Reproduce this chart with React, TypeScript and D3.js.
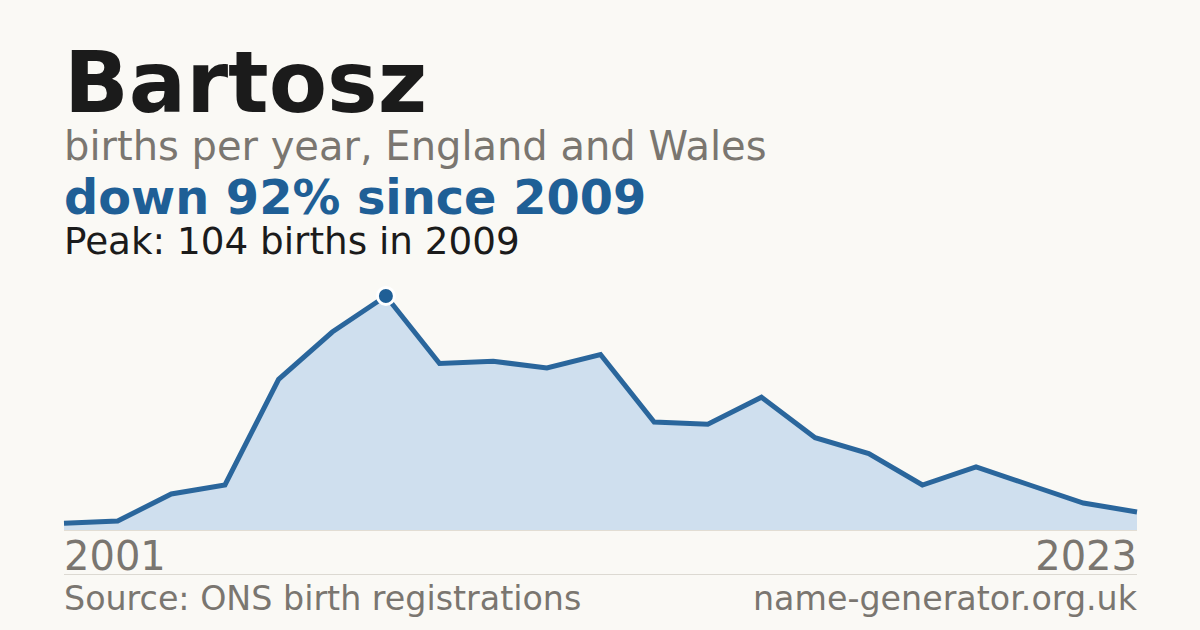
import React from "react";
import * as d3 from "d3";

const years = [2001, 2002, 2004, 2005, 2006, 2008, 2009, 2010, 2011, 2012, 2013, 2014, 2015, 2016, 2017, 2018, 2019, 2020, 2021, 2022, 2023];
const births = [3, 4, 16, 20, 67, 88, 104, 74, 75, 72, 78, 48, 47, 59, 41, 34, 20, 28, 20, 12, 8];
const axisLabels = ["2001", "2023"];
const title = "Bartosz";
const subtitle = "births per year, England and Wales";
const headline = "down 92% since 2009";
const peakNote = "Peak: 104 births in 2009";
const sourceNote = "Source: ONS birth registrations";
const siteNote = "name-generator.org.uk";

const W = 1200;
const H = 630;
const left = 64;
const right = 1137;
const baseY = 530;
const topY = 296;
const font = "'DejaVu Sans', Verdana, sans-serif";

export default function App() {
  const x = d3.scalePoint<number>().domain(years).range([left, right]);
  const y = d3.scaleLinear().domain([0, d3.max(births) as number]).range([baseY, topY]);
  const data = years.map((yr, i) => ({ yr, v: births[i] }));
  const area = d3
    .area<{ yr: number; v: number }>()
    .x((d) => x(d.yr) as number)
    .y0(baseY)
    .y1((d) => y(d.v));
  const line = d3
    .line<{ yr: number; v: number }>()
    .x((d) => x(d.yr) as number)
    .y((d) => y(d.v));
  const peakIdx = births.indexOf(d3.max(births) as number);
  const peak = data[peakIdx];

  return (
    <svg
      width={W}
      height={H}
      viewBox={`0 0 ${W} ${H}`}
      style={{ position: "absolute", left: 0, top: 0, display: "block" }}
      fontFamily={font}
    >
      <rect x={0} y={0} width={W} height={H} fill="#faf9f5" />
      <text x={left} y={112} fontSize={85} fontWeight="bold" fill="#1b1b1b">
        {title}
      </text>
      <text x={left} y={160} fontSize={40} fill="#7a7670">
        {subtitle}
      </text>
      <text x={left} y={214} fontSize={47.8} fontWeight="bold" fill="#1f5f96">
        {headline}
      </text>
      <text x={left} y={254} fontSize={37.3} fill="#1b1b1b">
        {peakNote}
      </text>

      <path d={area(data) ?? ""} fill="#cfdfee" />
      <line x1={left} x2={right} y1={baseY + 0.5} y2={baseY + 0.5} stroke="#e2ddd3" strokeWidth={1} />
      <path
        d={line(data) ?? ""}
        fill="none"
        stroke="#2a669c"
        strokeWidth={5}
        strokeLinejoin="miter"
      />
      <circle
        cx={x(peak.yr) as number}
        cy={y(peak.v)}
        r={8.5}
        fill="#1f5f96"
        stroke="#ffffff"
        strokeWidth={3}
      />

      <text x={left} y={570} fontSize={40} fill="#7a7670">
        {axisLabels[0]}
      </text>
      <text x={right} y={570} fontSize={40} fill="#7a7670" textAnchor="end">
        {axisLabels[1]}
      </text>
      <line x1={left} x2={right} y1={574.5} y2={574.5} stroke="#dcd9d2" strokeWidth={1} />
      <text x={left} y={610} fontSize={33.3} fill="#7a7670">
        {sourceNote}
      </text>
      <text x={right} y={610} fontSize={33.3} fill="#7a7670" textAnchor="end">
        {siteNote}
      </text>
    </svg>
  );
}
